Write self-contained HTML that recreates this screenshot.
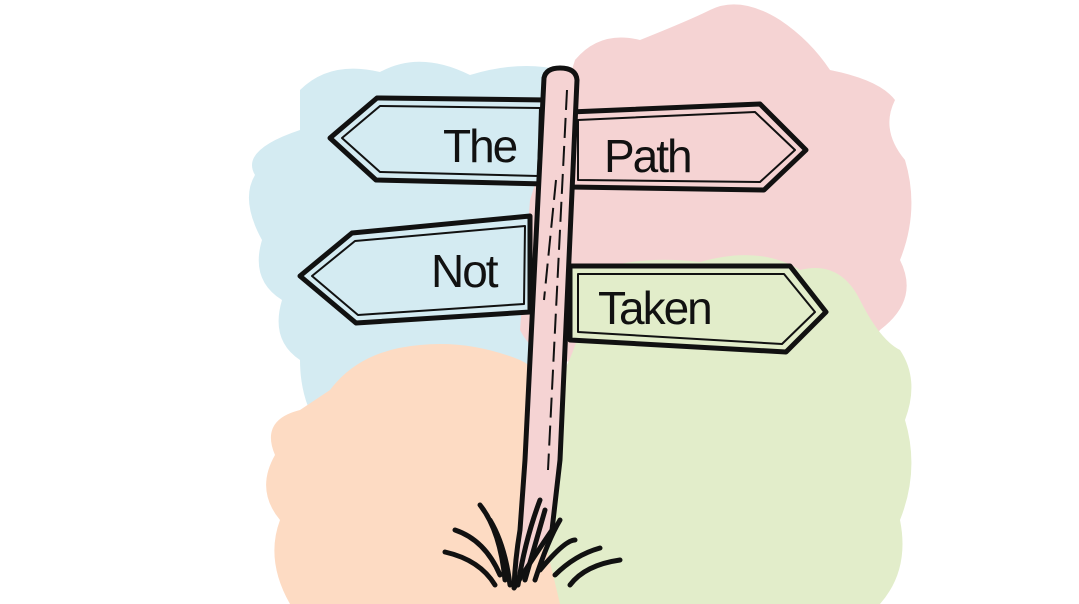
<!DOCTYPE html>
<html><head><meta charset="utf-8"><style>
html,body{margin:0;padding:0;background:#fff;width:1079px;height:604px;overflow:hidden}
svg{display:block}
text{font-family:"Liberation Sans",sans-serif;font-size:46px;fill:#111;letter-spacing:-2px}
</style></head><body>
<svg width="1079" height="604" viewBox="0 0 1079 604">
<path fill="#d4ebf2" d="M300,90 Q330,60 380,72 Q420,50 470,75 Q520,60 560,70 L580,150 L560,430 L320,430 Q300,400 300,360 Q270,340 282,300 Q250,280 262,240 Q240,200 255,175 Q240,150 300,130 Z"/>
<path fill="#f5d3d3" d="M575,60 Q600,30 640,40 Q690,20 710,10 Q740,-5 780,20 Q810,40 830,70 Q880,80 895,100 Q880,130 905,160 Q920,210 900,260 Q920,300 880,330 Q860,360 830,355 L600,360 Q540,370 520,330 L530,200 Z"/>
<path fill="#e2edca" d="M600,270 Q640,255 700,262 Q760,245 800,270 Q840,260 860,300 Q880,340 900,350 Q920,380 905,420 Q920,470 900,520 Q910,570 880,604 L505,604 L510,440 Q480,420 520,410 Q560,400 580,330 Z"/>
<path fill="#fddbc3" d="M330,390 Q360,350 420,345 Q470,340 520,360 Q560,380 550,420 Q565,470 540,520 L560,604 L290,604 Q265,560 280,520 Q255,490 275,455 Q260,420 300,410 Z"/>
<g stroke="#111" stroke-width="5" stroke-linejoin="round" fill="none">
<path fill="#d4ebf2" d="M330,138 L377,98 L548,100 L546,184 L376,180 Z"/>
<path d="M342,138 L380,106 L540,108 L538,176 L380,172 Z" stroke-width="2"/>
<path fill="#f5d3d3" d="M570,112 L760,104 L806,150 L764,190 L570,187 Z"/>
<path d="M578,120 L755,112 L795,150 L760,182 L578,180 Z" stroke-width="2"/>
<path fill="#d4ebf2" d="M300,276 L352,233 L530,216 L530,312 L356,323 Z"/>
<path d="M312,276 L355,241 L525,226 L524,304 L358,315 Z" stroke-width="2"/>
<path fill="#e2edca" d="M570,266 L790,266 L826,312 L786,352 L570,340 Z"/>
<path d="M578,274 L784,274 L815,312 L782,344 L578,332 Z" stroke-width="2"/>
<path fill="#f5d3d3" d="M544,78 Q546,68 560,68 Q576,68 577,80 L560,460 L552,530 Q535,555 514,588 Q515,560 520,530 L525,460 Z"/>
<path d="M567,90 L548,470 M556,180 L544,300" stroke-width="2" stroke-dasharray="20 8"/>
<path d="M445,552 Q480,560 495,585 M455,530 Q485,540 500,575 M480,505 Q500,530 505,580 M490,520 Q505,545 510,585 M540,500 Q525,540 518,585 M525,580 L545,510 M535,580 Q548,540 560,520 M540,570 Q565,540 575,540 M555,575 Q575,555 600,548 M570,585 Q585,565 620,560" stroke-width="5" stroke-linecap="round"/>
</g>
<text x="443" y="162">The</text>
<text x="604" y="172">Path</text>
<text x="431" y="287">Not</text>
<text x="598" y="324">Taken</text>
</svg>
</body></html>
